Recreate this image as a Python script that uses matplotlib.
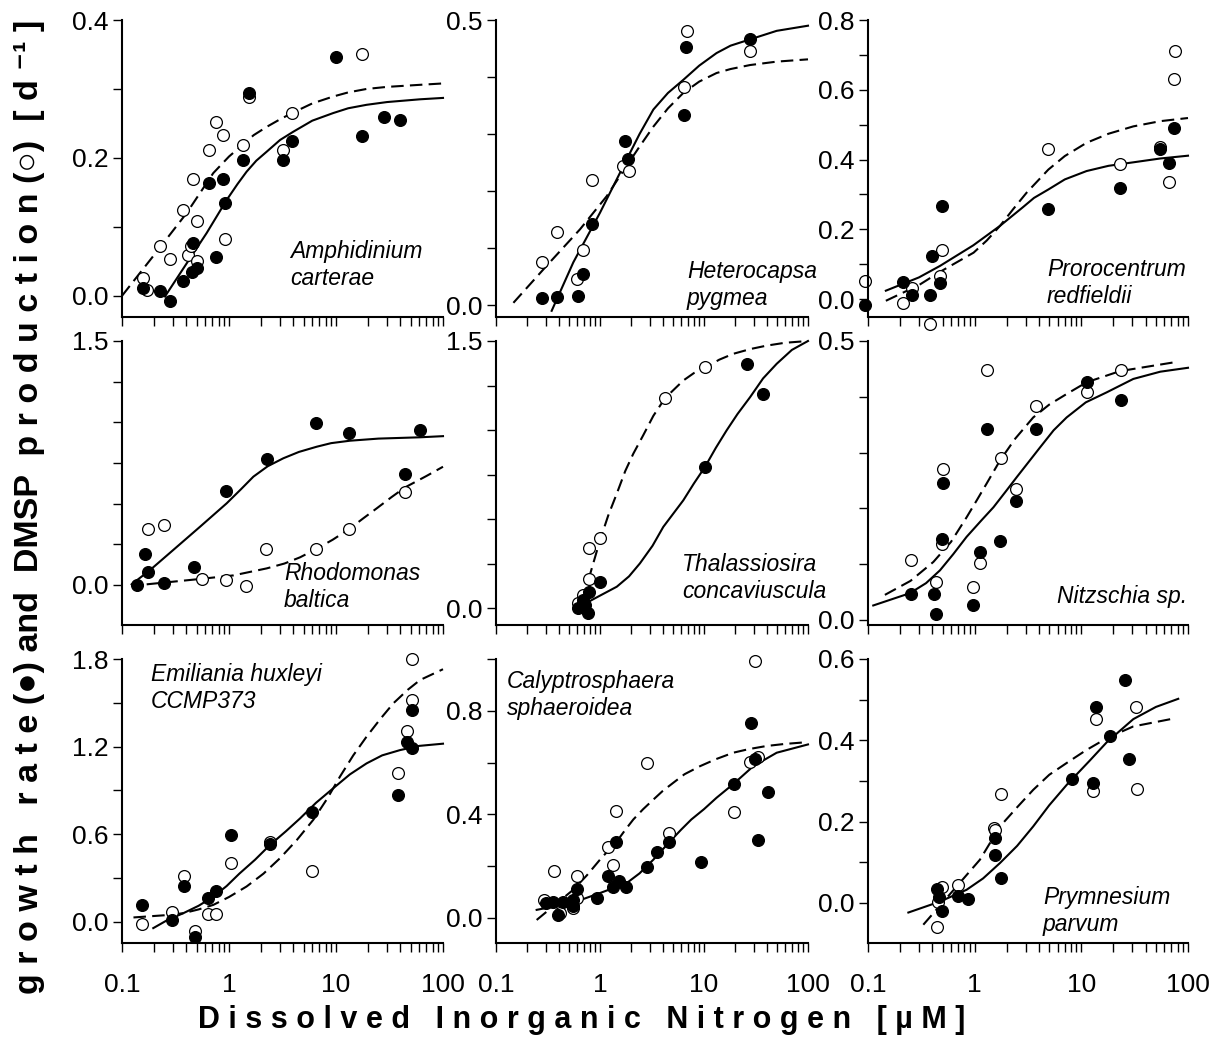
import numpy as np
import matplotlib
matplotlib.use('Agg')
import matplotlib.pyplot as plt
from matplotlib.ticker import FixedLocator, NullFormatter, FuncFormatter

plt.rcParams['font.family'] = ['Liberation Sans', 'DejaVu Sans']

# ---- Amphidinium carterae
amph_gx = [0.158, 0.226, 0.281, 0.369, 0.448, 0.499, 0.463, 0.757, 0.655, 0.885, 0.925, 1.34, 1.55, 3.18, 3.88, 10.1, 17.4, 28.3, 39.6]
amph_gy = [0.011, 0.007, -0.007, 0.021, 0.034, 0.040, 0.077, 0.056, 0.164, 0.170, 0.134, 0.197, 0.294, 0.197, 0.224, 0.347, 0.232, 0.260, 0.255]
amph_dx = [0.158, 0.170, 0.226, 0.281, 0.369, 0.411, 0.441, 0.499, 0.499, 0.463, 0.655, 0.757, 0.885, 0.925, 1.34, 1.55, 3.18, 3.88, 17.4]
amph_dy = [0.026, 0.009, 0.072, 0.053, 0.125, 0.059, 0.072, 0.109, 0.051, 0.170, 0.211, 0.252, 0.233, 0.082, 0.219, 0.288, 0.211, 0.265, 0.351]
amph_fit_gx = [0.252, 0.402, 0.618, 0.951, 1.2, 1.46, 1.8, 2.25, 3.0, 3.99, 6.0, 9.4, 13, 19.3, 30, 61, 100]
amph_fit_gy = [-0.001, 0.047, 0.091, 0.139, 0.162, 0.180, 0.196, 0.209, 0.226, 0.238, 0.254, 0.265, 0.272, 0.277, 0.281, 0.285, 0.287]
amph_fit_dx = [0.1, 0.211, 0.402, 0.713, 1.0, 1.34, 1.7, 2.25, 3.0, 3.88, 6.0, 9.4, 13, 19.3, 30, 61, 100]
amph_fit_dy = [0.0, 0.064, 0.120, 0.178, 0.202, 0.219, 0.233, 0.245, 0.256, 0.265, 0.279, 0.289, 0.295, 0.300, 0.303, 0.306, 0.308]

# ---- Heterocapsa pygmea
hete_gx = [0.279, 0.383, 0.609, 0.687, 0.844, 1.74, 1.87, 6.38, 6.71, 27.7]
hete_gy = [0.012, 0.015, 0.016, 0.054, 0.143, 0.288, 0.257, 0.334, 0.452, 0.466]
hete_dx = [0.279, 0.383, 0.597, 0.687, 0.832, 1.67, 1.91, 6.43, 6.8, 27.7]
hete_dy = [0.076, 0.129, 0.045, 0.097, 0.220, 0.244, 0.236, 0.382, 0.480, 0.445]
hete_fit_gx = [0.343, 0.554, 1.0, 1.80, 2.4, 3.26, 4.5, 6.32, 9.0, 13.2, 18, 27.7, 50, 100]
hete_fit_gy = [-0.010, 0.075, 0.162, 0.255, 0.300, 0.343, 0.372, 0.395, 0.420, 0.442, 0.455, 0.466, 0.481, 0.490]
hete_fit_dx = [0.147, 0.307, 0.643, 1.16, 1.80, 2.4, 3.26, 4.5, 6.32, 9.0, 13.2, 18, 27.7, 50, 100]
hete_fit_dy = [0.004, 0.069, 0.133, 0.191, 0.244, 0.278, 0.313, 0.345, 0.372, 0.392, 0.407, 0.414, 0.421, 0.427, 0.431]

# ---- Prorocentrum redfieldii
pror_gx = [0.094, 0.214, 0.256, 0.381, 0.398, 0.473, 0.494, 4.9, 23, 54.6, 66.7, 74.3]
pror_gy = [-0.016, 0.048, 0.012, 0.013, 0.124, 0.045, 0.268, 0.257, 0.317, 0.431, 0.390, 0.490]
pror_dx = [0.094, 0.211, 0.256, 0.381, 0.473, 0.494, 4.9, 23, 54.6, 66.7, 74.3, 75.5]
pror_dy = [0.051, -0.010, 0.031, -0.071, 0.067, 0.141, 0.431, 0.386, 0.435, 0.336, 0.631, 0.711]
pror_fit_gx = [0.147, 0.3, 0.473, 0.97, 1.73, 2.8, 3.6, 4.9, 7.0, 11.2, 18, 30.7, 55, 100]
pror_fit_gy = [0.024, 0.062, 0.095, 0.154, 0.210, 0.262, 0.290, 0.314, 0.343, 0.367, 0.382, 0.392, 0.403, 0.411]
pror_fit_dx = [0.147, 0.3, 0.473, 0.977, 1.3, 1.73, 2.3, 3.07, 4.9, 7.0, 11.2, 18, 30.7, 55, 100]
pror_fit_dy = [-0.005, 0.040, 0.078, 0.133, 0.168, 0.210, 0.258, 0.305, 0.371, 0.410, 0.448, 0.474, 0.495, 0.510, 0.519]

# ---- Rhodomonas baltica
rhod_gx = [0.137, 0.164, 0.174, 0.249, 0.474, 0.931, 2.25, 6.45, 13.3, 44.2, 61]
rhod_gy = [0.0, 0.189, 0.082, 0.010, 0.111, 0.578, 0.774, 0.994, 0.936, 0.684, 0.95]
rhod_dx = [0.174, 0.249, 0.563, 0.931, 1.43, 2.22, 6.45, 13.3, 44.2]
rhod_dy = [0.342, 0.369, 0.037, 0.031, -0.004, 0.221, 0.219, 0.344, 0.574]
rhod_fit_gx = [0.123, 0.183, 0.301, 0.536, 0.951, 1.3, 1.69, 2.3, 3.22, 4.5, 6.6, 9.0, 13.5, 25, 61, 100]
rhod_fit_gy = [0.004, 0.092, 0.215, 0.358, 0.502, 0.590, 0.666, 0.730, 0.779, 0.818, 0.850, 0.872, 0.887, 0.900, 0.908, 0.915]
rhod_fit_dx = [0.17, 0.536, 1.10, 2.25, 3.3, 4.61, 6.45, 9.3, 13.3, 18, 24, 33, 44.2, 70, 100]
rhod_fit_dy = [0.004, 0.037, 0.059, 0.102, 0.132, 0.170, 0.219, 0.278, 0.344, 0.410, 0.471, 0.540, 0.600, 0.670, 0.727]

# ---- Thalassiosira concaviuscula
thal_gx = [0.619, 0.692, 0.789, 0.773, 0.72, 1.0, 10.2, 25.7, 37.2]
thal_gy = [-0.002, 0.045, 0.092, -0.030, 0.02, 0.144, 0.792, 1.372, 1.204]
thal_dx = [0.61, 0.692, 0.785, 0.785, 1.0, 4.22, 10.3]
thal_dy = [0.026, 0.073, 0.163, 0.335, 0.391, 1.179, 1.353]
thal_fit_gx = [0.773, 1.0, 1.45, 1.9, 2.42, 3.2, 4.06, 6.32, 8.0, 10.2, 13, 16.5, 21, 27.7, 37, 50, 70, 100]
thal_fit_gy = [0.035, 0.070, 0.120, 0.178, 0.251, 0.350, 0.456, 0.605, 0.700, 0.792, 0.900, 0.998, 1.090, 1.184, 1.290, 1.372, 1.450, 1.500]
thal_fit_dx = [0.773, 0.88, 1.0, 1.2, 1.45, 1.75, 2.09, 2.6, 3.26, 4.22, 6.32, 8.0, 10.3, 14, 19.1, 28, 40, 60, 100]
thal_fit_dy = [0.157, 0.270, 0.381, 0.520, 0.643, 0.770, 0.867, 0.970, 1.080, 1.179, 1.278, 1.320, 1.350, 1.395, 1.428, 1.455, 1.474, 1.490, 1.500]

# ---- Nitzschia sp.
nitz_gx = [0.251, 0.419, 0.43, 0.498, 0.51, 0.97, 1.12, 1.31, 1.73, 2.44, 3.73, 11.2, 23.3]
nitz_gy = [0.046, 0.046, 0.010, 0.145, 0.245, 0.026, 0.122, 0.343, 0.141, 0.214, 0.342, 0.426, 0.395]
nitz_dx = [0.251, 0.43, 0.498, 0.51, 0.97, 1.12, 1.31, 1.75, 2.44, 3.73, 11.3, 23.3]
nitz_dy = [0.108, 0.068, 0.137, 0.271, 0.060, 0.103, 0.448, 0.290, 0.235, 0.384, 0.409, 0.448]
nitz_fit_gx = [0.112, 0.247, 0.35, 0.473, 0.63, 0.84, 1.15, 1.50, 1.95, 2.48, 3.2, 4.09, 5.5, 7.28, 11, 17.3, 30.7, 55, 100]
nitz_fit_gy = [0.026, 0.048, 0.066, 0.089, 0.118, 0.149, 0.178, 0.202, 0.230, 0.256, 0.283, 0.309, 0.340, 0.363, 0.390, 0.408, 0.432, 0.445, 0.452]
nitz_fit_dx = [0.144, 0.25, 0.41, 0.6, 0.84, 1.05, 1.29, 1.73, 2.4, 3.54, 5.0, 7.28, 11.2, 23, 81]
nitz_fit_dy = [0.045, 0.070, 0.104, 0.140, 0.184, 0.215, 0.244, 0.286, 0.325, 0.363, 0.386, 0.405, 0.426, 0.446, 0.463]

# ---- Emiliania huxleyi CCMP373
emil_gx = [0.153, 0.295, 0.379, 0.481, 0.641, 0.75, 1.04, 2.42, 5.93, 38.2, 45.8, 51, 51.6]
emil_gy = [0.114, 0.014, 0.242, -0.105, 0.162, 0.214, 0.593, 0.532, 0.751, 0.867, 1.234, 1.193, 1.451]
emil_dx = [0.153, 0.295, 0.379, 0.481, 0.641, 0.757, 1.04, 2.42, 5.93, 38.2, 45.8, 51, 51]
emil_dy = [-0.016, 0.066, 0.317, -0.062, 0.055, 0.055, 0.401, 0.55, 0.351, 1.018, 1.31, 1.52, 1.80]
emil_fit_gx = [0.196, 0.27, 0.374, 0.52, 0.713, 0.95, 1.25, 1.75, 2.42, 3.4, 4.61, 6.5, 9.4, 13.5, 19.3, 27, 39.6, 60, 100]
emil_fit_gy = [-0.043, 0.015, 0.059, 0.110, 0.172, 0.245, 0.330, 0.425, 0.527, 0.620, 0.708, 0.815, 0.914, 1.010, 1.085, 1.140, 1.176, 1.205, 1.220]
emil_fit_dx = [0.128, 0.25, 0.374, 0.52, 0.713, 1.0, 1.46, 2.1, 3.0, 4.3, 6.14, 8.3, 10.9, 14.5, 19.3, 26, 34.4, 47, 61, 100]
emil_fit_dy = [0.030, 0.045, 0.059, 0.085, 0.116, 0.170, 0.242, 0.330, 0.436, 0.560, 0.699, 0.845, 0.995, 1.140, 1.268, 1.390, 1.497, 1.590, 1.656, 1.730]

# ---- Calyptrosphaera sphaeroidea
caly_gx = [0.30, 0.356, 0.397, 0.444, 0.554, 0.554, 0.597, 0.942, 1.20, 1.34, 1.43, 1.52, 1.77, 2.85, 3.56, 4.65, 9.35, 19.4, 28.1, 30.9, 33.3, 40.9]
caly_gy = [0.059, 0.063, 0.012, 0.063, 0.070, 0.047, 0.111, 0.076, 0.160, 0.121, 0.292, 0.141, 0.121, 0.197, 0.255, 0.293, 0.217, 0.519, 0.751, 0.612, 0.300, 0.488]
caly_dx = [0.291, 0.361, 0.412, 0.554, 0.597, 0.597, 1.20, 1.34, 1.42, 2.81, 4.65, 19.4, 27.7, 30.9, 33.3]
caly_dy = [0.070, 0.182, 0.018, 0.037, 0.160, 0.078, 0.274, 0.205, 0.412, 0.597, 0.328, 0.408, 0.602, 0.991, 0.621]
caly_fit_gx = [0.246, 0.554, 1.0, 1.80, 2.4, 3.26, 4.65, 6.0, 7.55, 10, 13.2, 19.4, 29.8, 50, 100]
caly_fit_gy = [0.031, 0.059, 0.096, 0.134, 0.172, 0.225, 0.293, 0.340, 0.380, 0.420, 0.464, 0.519, 0.586, 0.638, 0.670]
caly_fit_dx = [0.246, 0.554, 0.75, 1.0, 1.2, 1.43, 1.75, 2.09, 2.6, 3.26, 4.0, 5.07, 6.5, 9.16, 13, 19.1, 27, 40, 60, 100]
caly_fit_dy = [-0.008, 0.109, 0.165, 0.225, 0.260, 0.292, 0.340, 0.380, 0.420, 0.457, 0.490, 0.522, 0.555, 0.586, 0.613, 0.638, 0.652, 0.664, 0.672, 0.679]

# ---- Prymnesium parvum
prym_gx = [0.44, 0.466, 0.491, 0.693, 0.871, 1.55, 1.55, 1.76, 8.11, 12.8, 13.7, 18.5, 25.6, 28.1]
prym_gy = [0.034, 0.014, -0.021, 0.016, 0.009, 0.159, 0.118, 0.062, 0.305, 0.295, 0.482, 0.410, 0.549, 0.355]
prym_dx = [0.44, 0.491, 0.456, 0.693, 1.53, 1.55, 1.76, 12.8, 13.7, 32.5, 33.4]
prym_dy = [-0.060, 0.040, 0.001, 0.043, 0.184, 0.178, 0.268, 0.274, 0.453, 0.482, 0.281]
prym_fit_gx = [0.239, 0.473, 0.84, 1.2, 1.73, 2.5, 3.54, 5.0, 7.28, 12, 17.3, 30.7, 50, 81]
prym_fit_gy = [-0.024, 0.003, 0.032, 0.060, 0.098, 0.140, 0.188, 0.240, 0.290, 0.350, 0.395, 0.452, 0.482, 0.502]
prym_fit_dx = [0.33, 0.677, 1.12, 1.73, 2.5, 3.54, 5.0, 7.28, 11, 17.3, 30.7, 71.8]
prym_fit_dy = [-0.054, 0.040, 0.106, 0.188, 0.235, 0.278, 0.315, 0.344, 0.375, 0.405, 0.434, 0.453]

species = ['Amphidinium\ncarterae', 'Heterocapsa\npygmea', 'Prorocentrum\nredfieldii',
           'Rhodomonas\nbaltica', 'Thalassiosira\nconcaviuscula', 'Nitzschia sp.',
           'Emiliania huxleyi\nCCMP373', 'Calyptrosphaera\nsphaeroidea', 'Prymnesium\nparvum']

panels = [
    (amph_gx, amph_gy, amph_dx, amph_dy, amph_fit_gx, amph_fit_gy, amph_fit_dx, amph_fit_dy),
    (hete_gx, hete_gy, hete_dx, hete_dy, hete_fit_gx, hete_fit_gy, hete_fit_dx, hete_fit_dy),
    (pror_gx, pror_gy, pror_dx, pror_dy, pror_fit_gx, pror_fit_gy, pror_fit_dx, pror_fit_dy),
    (rhod_gx, rhod_gy, rhod_dx, rhod_dy, rhod_fit_gx, rhod_fit_gy, rhod_fit_dx, rhod_fit_dy),
    (thal_gx, thal_gy, thal_dx, thal_dy, thal_fit_gx, thal_fit_gy, thal_fit_dx, thal_fit_dy),
    (nitz_gx, nitz_gy, nitz_dx, nitz_dy, nitz_fit_gx, nitz_fit_gy, nitz_fit_dx, nitz_fit_dy),
    (emil_gx, emil_gy, emil_dx, emil_dy, emil_fit_gx, emil_fit_gy, emil_fit_dx, emil_fit_dy),
    (caly_gx, caly_gy, caly_dx, caly_dy, caly_fit_gx, caly_fit_gy, caly_fit_dx, caly_fit_dy),
    (prym_gx, prym_gy, prym_dx, prym_dy, prym_fit_gx, prym_fit_gy, prym_fit_dx, prym_fit_dy),
]

# y axis: limits, labelled ticks, unlabelled ticks
ylims = [(-0.03, 0.4), (-0.02, 0.5), (-0.05, 0.8),
         (-0.246, 1.5), (-0.095, 1.5), (-0.009, 0.5),
         (-0.145, 1.8), (-0.097, 1.0), (-0.099, 0.6)]
ymajor = [[0, 0.2, 0.4], [0, 0.5], [0, 0.2, 0.4, 0.6, 0.8],
          [0, 1.5], [0, 1.5], [0, 0.5],
          [0, 0.6, 1.2, 1.8], [0, 0.4, 0.8], [0, 0.2, 0.4, 0.6]]
yminor = [[0.1, 0.3], [0.1, 0.2, 0.3, 0.4], [0.1, 0.3, 0.5, 0.7],
          [0.25, 0.5, 0.75, 1.0, 1.25], [0.25, 0.5, 0.75, 1.0, 1.25], [0.1, 0.2, 0.3, 0.4],
          [0.3, 0.9, 1.5], [0.2, 0.6, 1.0], [0.1, 0.3, 0.5]]

# species label positions (axes fraction)
lab_pos = [(0.523, 0.174, 'left'), (0.612, 0.106, 'left'), (0.559, 0.113, 'left'),
           (0.505, 0.134, 'left'), (0.596, 0.165, 'left'), (0.997, 0.099, 'right'),
           (0.09, 0.898, 'left'), (0.035, 0.873, 'left'), (0.547, 0.113, 'left')]

W, H = 1221, 1059
cols = [(122, 443), (496, 808), (868, 1188)]
rows = [(20, 316.5), (341, 625), (659, 943)]

fig = plt.figure(figsize=(W / 100, H / 100), dpi=100)

for i, p in enumerate(panels):
    r, c = divmod(i, 3)
    x0, x1 = cols[c]
    y0, y1 = rows[r]
    ax = fig.add_axes([x0 / W, 1 - y1 / H, (x1 - x0) / W, (y1 - y0) / H])
    gx, gy, dx, dy, fgx, fgy, fdx, fdy = p

    ax.plot(fdx, fdy, color='black', lw=1.5, ls=(0, (6, 3)), clip_on=False)
    ax.plot(fgx, fgy, color='black', lw=1.5, clip_on=False)
    ax.plot(dx, dy, 'o', ms=8.5, mfc='white', mec='black', mew=0.9, clip_on=False)
    ax.plot(gx, gy, 'o', ms=8.5, mfc='black', mec='black', mew=0.9, clip_on=False)

    ax.set_xscale('log')
    ax.set_xlim(0.1, 100)
    ax.set_ylim(*ylims[i])
    ax.xaxis.set_major_locator(FixedLocator([0.1, 1, 10, 100]))
    ax.xaxis.set_minor_locator(FixedLocator([m * d for d in [0.1, 1, 10] for m in range(2, 10)]))
    ax.xaxis.set_minor_formatter(NullFormatter())
    if r == 2:
        ax.xaxis.set_major_formatter(FuncFormatter(lambda v, pos: '%g' % v))
    else:
        ax.xaxis.set_major_formatter(NullFormatter())
    ax.yaxis.set_major_locator(FixedLocator(ymajor[i]))
    ax.yaxis.set_minor_locator(FixedLocator(yminor[i]))
    ax.yaxis.set_major_formatter(FuncFormatter(lambda v, pos: '%.1f' % v))

    for s in ['top', 'right']:
        ax.spines[s].set_visible(False)
    for s in ['left', 'bottom']:
        ax.spines[s].set_linewidth(1.5)
    ax.tick_params(which='both', direction='out', length=6.5, width=1.0, labelsize=19)
    ax.tick_params(axis='y', pad=3)
    ax.tick_params(axis='x', pad=15)
    ax.patch.set_alpha(0)

    lx, ly, ha = lab_pos[i]
    ax.text(lx, ly, species[i], transform=ax.transAxes, ha=ha, va='center',
            fontsize=16.5, style='italic', linespacing=1.2)

xlabel = 'D i s s o l v e d   I n o r g a n i c   N i t r o g e n   [ µ M ]'
fig.text(582 / W, 1 - 1020 / H, xlabel, ha='center', va='center', fontsize=22, fontweight='bold')

ylabel = 'g r o w t h   r a t e (●) and  DMSP  p r o d u c t i o n (○)  [ d ⁻¹ ]'
fig.text(30 / W, 1 - 507 / H, ylabel, ha='center', va='center', rotation=90,
         fontsize=24.5, fontweight='bold')

fig.savefig('out.png', dpi=100)
plt.close(fig)
